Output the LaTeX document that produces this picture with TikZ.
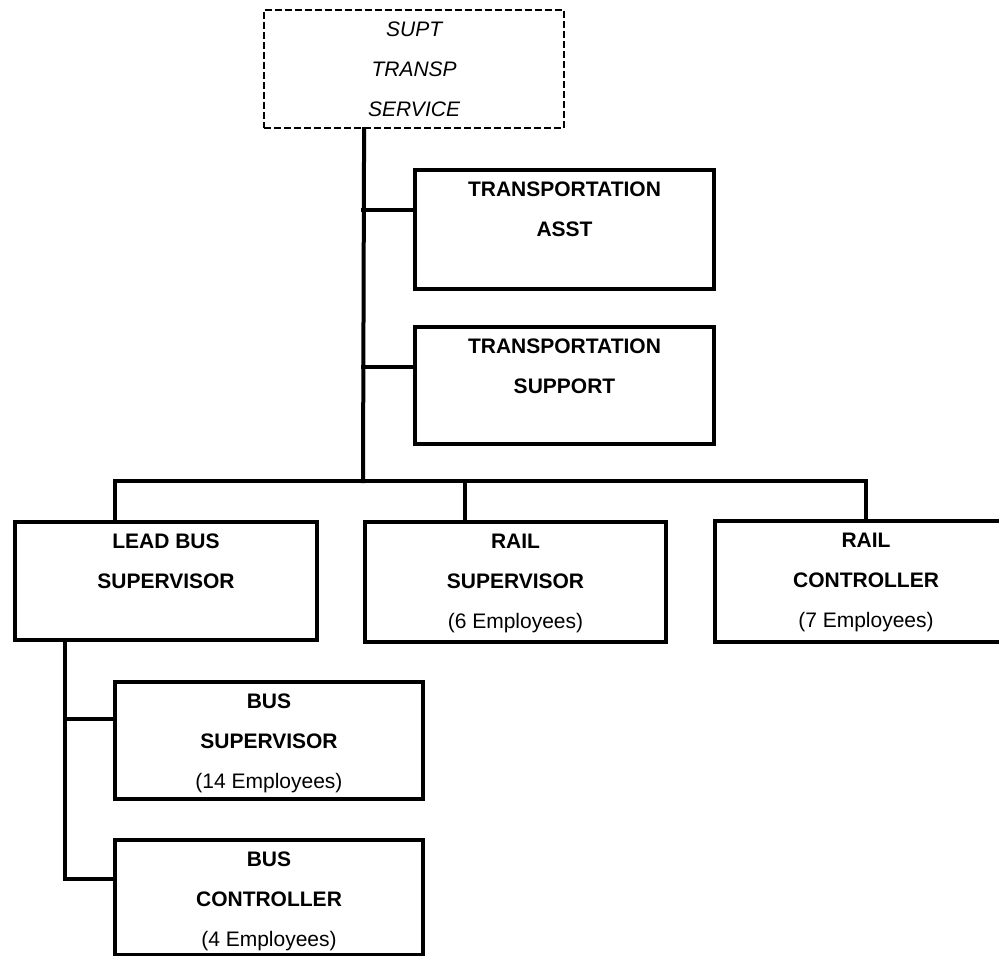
\documentclass[tikz,border=0pt]{standalone}
\usepackage{fontspec}
\setmainfont{Liberation Sans}
\usetikzlibrary{calc}

% box text: top-aligned block of centred lines inside a box of fixed size
\newcommand{\orgtext}[3]{%
  \begin{minipage}[c][#1][t]{#2}\centering
    \rule{0pt}{26pt}#3\par\end{minipage}}
% head count line, set in regular weight
\newcommand{\staff}[1]{{\mdseries(#1 Employees)}}

\begin{document}
\begin{tikzpicture}[x=1pt,y=-1pt,
  orgbox/.style={draw=black, line width=4pt, inner sep=0pt, anchor=north west,
    font=\fontsize{21}{40}\selectfont\bfseries},
  headbox/.style={draw=black, line width=2.2pt, dash pattern=on 7pt off 3pt,
    inner sep=0pt, anchor=north west, font=\fontsize{21}{40}\selectfont\itshape},
  conn/.style={line width=4pt, line cap=rect}]

\useasboundingbox (0,0) rectangle (999,956);

% head of the unit
\node[headbox] (supt) at (263,9)
  {\orgtext{118pt}{300pt}{SUPT\\TRANSP\\SERVICE}};

% staff positions
\node[orgbox] (asst) at (413,168)
  {\orgtext{119pt}{299pt}{TRANSPORTATION\\ASST}};
\node[orgbox] (support) at (413,325)
  {\orgtext{117pt}{299pt}{TRANSPORTATION\\SUPPORT}};

% first line reports
\node[orgbox] (leadbus) at (13,520)
  {\orgtext{118pt}{302pt}{LEAD BUS\\SUPERVISOR}};
\node[orgbox] (railsup) at (363,520)
  {\orgtext{120pt}{301pt}{RAIL\\SUPERVISOR\\\staff{6}}};
\node[orgbox] (railctl) at (713,519)
  {\orgtext{121pt}{302pt}{RAIL\\CONTROLLER\\\staff{7}}};

% under the lead bus supervisor
\node[orgbox] (bussup) at (113,680)
  {\orgtext{117pt}{308pt}{BUS\\SUPERVISOR\\\staff{14}}};
\node[orgbox] (busctl) at (113,838)
  {\orgtext{115pt}{308pt}{BUS\\CONTROLLER\\\staff{4}}};

% trunk and branches
\coordinate (hub) at (363,481);
\draw[conn] ([xshift=-50pt]supt.south) -- (hub);
\draw[conn] ([yshift=20pt]asst.west) -- ([yshift=20pt]asst.west -| hub);
\draw[conn] ([yshift=18.5pt]support.west) -- ([yshift=18.5pt]support.west -| hub);

% bar over the first line reports
\draw[conn] ([xshift=-51pt]leadbus.north) |- (hub -| railctl.north) -- (railctl.north);
\draw[conn] ([xshift=-50.5pt]railsup.north) -- ([xshift=-50.5pt]railsup.north |- hub);

% lead bus supervisor line
\coordinate (leg) at (65,0);
\draw[conn] (leadbus.south -| leg) |- ([yshift=18.5pt]busctl.west);
\draw[conn] ([yshift=21.5pt]bussup.west) -- ([yshift=21.5pt]bussup.west -| leg);

\end{tikzpicture}
\end{document}
